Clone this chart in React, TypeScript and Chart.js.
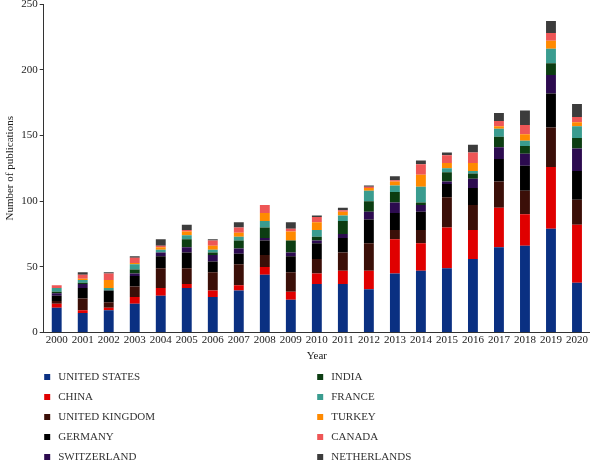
import React, { useEffect, useRef } from "react";
import { Chart, registerables } from "chart.js";

Chart.register(...registerables);

const years = ["2000","2001","2002","2003","2004","2005","2006","2007","2008","2009","2010","2011","2012","2013","2014","2015","2016","2017","2018","2019","2020"];

const unitedStates = [19, 15, 17, 22, 28, 34, 27, 32, 44, 25, 37, 37, 33, 45, 47, 49, 56, 65, 66, 79, 38];
const china = [3, 2, 2, 5, 6, 3, 5, 4, 6, 6, 8, 10, 14, 26, 21, 31, 22, 30, 24, 47, 44];
const unitedKingdom = [2, 9, 4, 8, 15, 12, 14, 16, 9, 15, 11, 14, 21, 7, 10, 23, 19, 20, 18, 30, 19];
const germany = [4, 8, 9, 8, 9, 12, 8, 8, 11, 12, 12, 11, 18, 13, 14, 10, 13, 17, 19, 26, 22];
const switzerland = [2, 3, 0, 2, 3, 4, 5, 4, 2, 3, 2, 3, 6, 8, 5, 2, 7, 9, 9, 14, 17];
const india = [1, 1, 0, 3, 0, 6, 2, 6, 8, 9, 3, 10, 8, 8, 2, 7, 4, 8, 6, 9, 8];
const france = [3, 2, 2, 4, 2, 3, 2, 3, 5, 0, 5, 4, 8, 5, 12, 3, 2, 6, 4, 11, 9];
const turkey = [0, 1, 6, 1, 2, 3, 3, 3, 6, 7, 6, 3, 2, 3, 9, 4, 6, 2, 5, 6, 3];
const canada = [2, 3, 5, 4, 1, 1, 4, 4, 6, 2, 4, 1, 1, 1, 8, 6, 8, 4, 7, 6, 4];
const netherlands = [0, 2, 1, 1, 5, 4, 1, 4, 0, 5, 1, 2, 1, 3, 3, 2, 6, 6, 11, 9, 10];

const seriesNames = ["UNITED STATES","CHINA","UNITED KINGDOM","GERMANY","SWITZERLAND","INDIA","FRANCE","TURKEY","CANADA","NETHERLANDS"];
const seriesValues = [unitedStates, china, unitedKingdom, germany, switzerland, india, france, turkey, canada, netherlands];
const seriesColors = ["#0a3082","#e00000","#3b0f08","#000000","#2c0b4f","#0c3d12","#3a9c8f","#ff8a00","#ee5656","#3c3c3c"];

const yTicks = [0, 50, 100, 150, 200, 250];

const FONT = "'Liberation Serif', 'Times New Roman', serif";

const legendPlugin = {
  id: "twoColLegend",
  afterDraw(chart: any) {
    const ctx = chart.ctx;
    const area = chart.chartArea;
    const ds = chart.data.datasets;
    const rows = Math.ceil(ds.length / 2);
    ctx.save();
    ctx.font = `11px ${FONT}`;
    ctx.textBaseline = "middle";
    ctx.textAlign = "left";
    ds.forEach((d: any, i: number) => {
      const col = Math.floor(i / rows);
      const row = i % rows;
      const x = area.left + 0.5 + col * 273;
      const y = 377 + row * 20;
      ctx.fillStyle = d.backgroundColor;
      ctx.fillRect(x, y - 3, 6, 6);
      ctx.fillStyle = "#333";
      ctx.fillText(d.label, x + 14, y + 0.5);
    });
    ctx.restore();
  },
};

export default function App() {
  const ref = useRef<HTMLCanvasElement>(null);
  useEffect(() => {
    if (!ref.current) return;
    const chart = new Chart(ref.current, {
      type: "bar",
      data: {
        labels: years,
        datasets: seriesNames.map((name, i) => ({
          label: name,
          data: seriesValues[i],
          backgroundColor: seriesColors[i],
          borderWidth: 0,
          categoryPercentage: 1,
          barPercentage: 0.38,
        })),
      },
      options: {
        animation: false,
        responsive: false,
        maintainAspectRatio: false,
        layout: { padding: { top: 4, right: 0, bottom: 99, left: 4 } },
        plugins: {
          legend: { display: false },
          tooltip: { enabled: false },
        },
        scales: {
          x: {
            stacked: true,
            grid: { display: true, drawOnChartArea: false, drawTicks: false },
            border: { display: true, color: "#333", width: 1 },
            ticks: { color: "#222", font: { family: FONT, size: 11 }, padding: 1, maxRotation: 0, autoSkip: false },
            title: { display: true, text: "Year", color: "#222", font: { family: FONT, size: 11 }, padding: { top: 2, bottom: 0 } },
          },
          y: {
            stacked: true,
            min: 0,
            max: 250,
            afterBuildTicks: (axis: any) => {
              axis.ticks = yTicks.map((v) => ({ value: v }));
            },
            afterFit: (axis: any) => {
              axis.paddingTop = 0;
            },
            grid: { display: true, drawOnChartArea: false, drawTicks: true, tickLength: 4, color: "#333" },
            border: { display: true, color: "#333", width: 1 },
            ticks: { color: "#222", font: { family: FONT, size: 11 }, padding: 2 },
            title: { display: true, text: "Number of publications", color: "#222", font: { family: FONT, size: 11 }, padding: { top: 0, bottom: 2 } },
          },
        },
      },
      plugins: [legendPlugin],
    });
    return () => chart.destroy();
  }, []);
  return (
    <div style={{ position: "absolute", left: 0, top: 0, width: 590, height: 462, background: "#fff" }}>
      <canvas ref={ref} width={590} height={462} style={{ display: "block" }} />
    </div>
  );
}
